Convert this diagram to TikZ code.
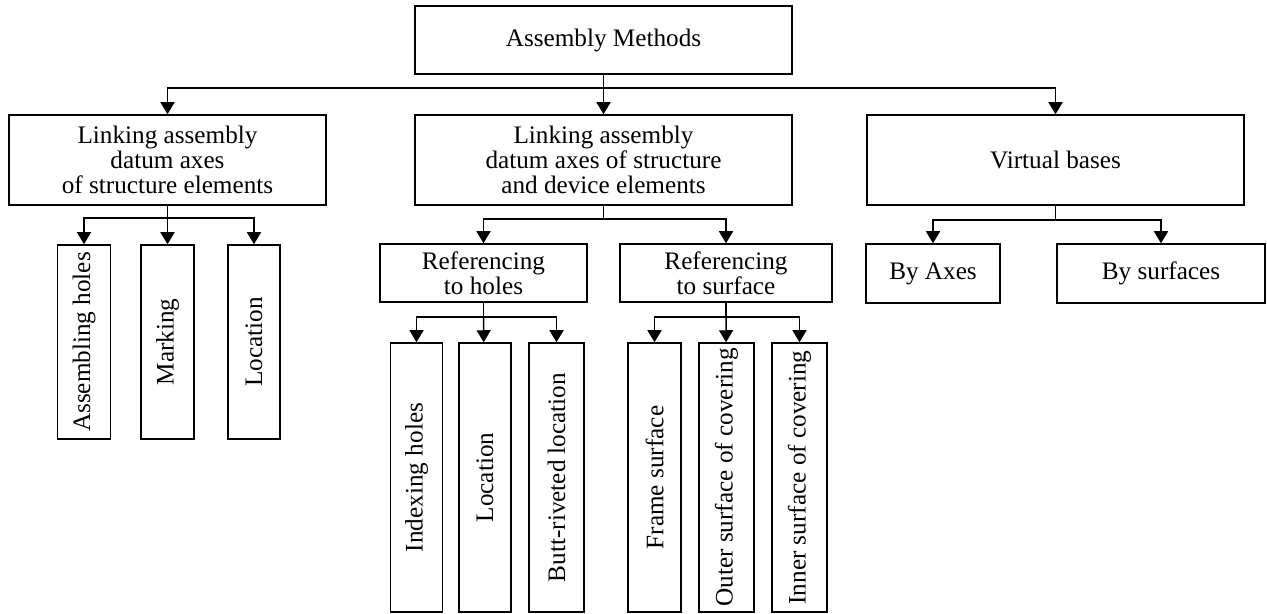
\documentclass[tikz,border=0pt]{standalone}
\usepackage{fontspec}
\setmainfont{Liberation Serif}
\usetikzlibrary{arrows.meta}
\begin{document}
\begin{tikzpicture}[x=0.5pt,y=-0.5pt,
  txt/.style={font=\fontsize{12.6}{12.5}\selectfont},
  box/.style 2 args={draw, line width=0.75pt, inner sep=0pt, txt,
    minimum width=#1*0.5pt, minimum height=#2*0.5pt, align=center},
  vbox/.style 2 args={box={#2}{#1}, rotate=90},
  link/.style={line width=0.75pt},
  arr/.style={link, -{Triangle[width=7pt,length=6pt]}}]
\useasboundingbox (0,0) rectangle (1267,614);

% level 0
\node[box={377}{68}] (top) at (603.5,40) {Assembly Methods};

% level 1
\node[box={317}{90}] (L1) at (167.5,160) {Linking assembly\\datum axes\\of structure elements};
\node[box={377}{90}] (M1) at (603.5,160) {Linking assembly\\datum axes of structure\\and device elements};
\node[box={377}{90}] (R1) at (1055.5,160) {Virtual bases};

% level 2
\node[vbox={53}{194}] (a1) at (84,342) {Assembling holes};
\node[vbox={53}{194}] (a2) at (167.5,342) {Marking};
\node[vbox={52}{194}] (a3) at (254,342) {Location};

\node[box={207}{58}] (rh) at (483.5,273) {Referencing\\to holes};
\node[box={212}{58}] (rs) at (726,273) {Referencing\\to surface};

\node[box={134}{59}] (ax) at (933,273.5) {By Axes};
\node[box={208}{59}] (sf) at (1161,273.5) {By surfaces};

% level 3
\node[vbox={52}{269}] (b1) at (416.5,477.5) {Indexing holes};
\node[vbox={52}{269}] (b2) at (485,477.5) {Location};
\node[vbox={55}{269}] (b3) at (556.5,477.5) {Butt-riveted location};

\node[vbox={53}{269}] (c1) at (654.5,477.5) {Frame surface};
\node[vbox={55}{269}] (c2) at (726.5,477.5) {Outer surface of covering};
\node[vbox={55}{269}] (c3) at (799.5,477.5) {Inner surface of covering};

% junctions
\coordinate (j0) at (603.5,88);
\coordinate (jL) at (167.5,218);
\coordinate (jM) at (603.5,219);
\coordinate (jR) at (1055.5,220);
\coordinate (jH) at (483.5,317);
\coordinate (jS) at (726,317);

% connectors
\draw[link] (top) -- (j0);
\draw[arr] (j0) -| (L1);
\draw[arr] (j0) -- (M1);
\draw[arr] (j0) -| (R1);

\draw[link] (L1) -- (jL);
\draw[arr] (jL) -| (a1);
\draw[arr] (jL) -- (a2);
\draw[arr] (jL) -| (a3);

\draw[link] (M1) -- (jM);
\draw[arr] (jM) -| (rh);
\draw[arr] (jM) -| (rs);

\draw[link] (R1) -- (jR);
\draw[arr] (jR) -| (ax);
\draw[arr] (jR) -| (sf);

\draw[link] (rh) -- (jH);
\draw[arr] (jH) -| (b1);
\draw[arr] (jH) -- (b2);
\draw[arr] (jH) -| (b3);

\draw[link] (rs) -- (jS);
\draw[arr] (jS) -| (c1);
\draw[arr] (jS) -- (c2);
\draw[arr] (jS) -| (c3);
\end{tikzpicture}
\end{document}
